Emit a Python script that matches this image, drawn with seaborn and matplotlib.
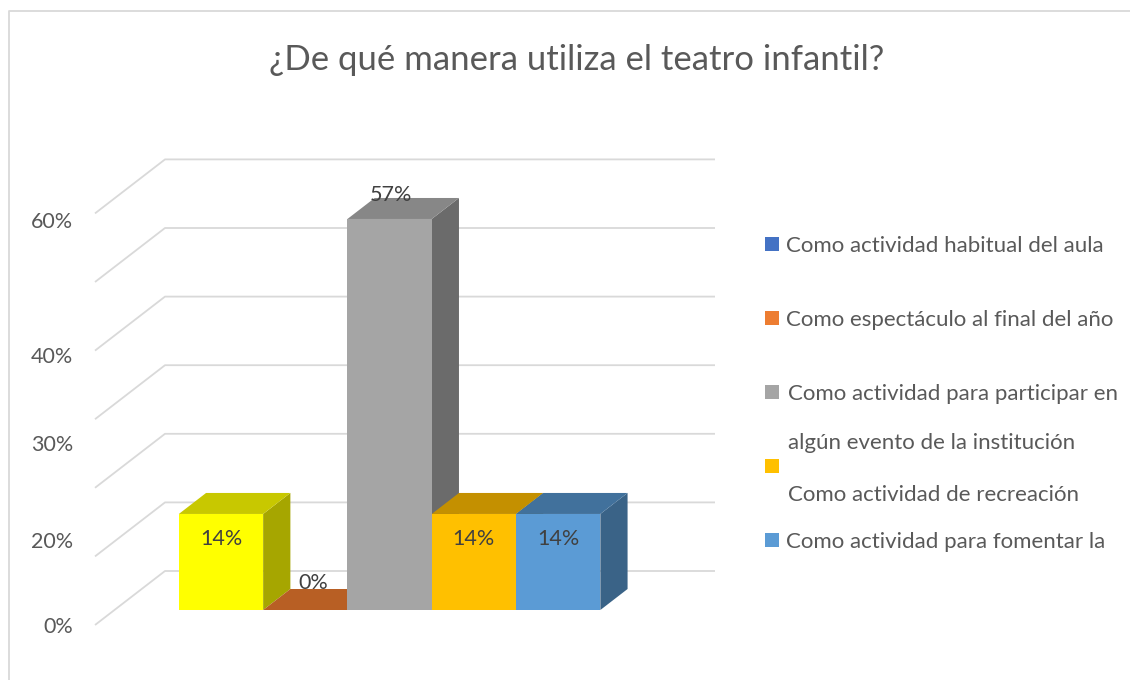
import matplotlib
matplotlib.use("Agg")
import matplotlib.pyplot as plt
from matplotlib.patches import Polygon, Rectangle
from matplotlib.lines import Line2D
import seaborn as sns
import pandas as pd

# --- data ---
titulo = "¿De qué manera utiliza el teatro infantil?"
leyenda_lineas = [
    ["Como actividad habitual del aula"],
    ["Como espectáculo al final del año"],
    ["Como actividad para participar en", "algún evento de la institución"],
    ["Como actividad de recreación"],
    ["Como actividad para fomentar la"],
]
categorias = [" ".join(l) for l in leyenda_lineas]
porcentajes = [14, 0, 57, 14, 14]
etiquetas = ["14%", "0%", "57%", "14%", "14%"]
ticks_texto = ["0%", "20%", "30%", "40%", "60%"]

# colours: front / side / top of each bar, and the (default) legend colours
frente = ["#FFFF00", "#ED7D31", "#A5A5A5", "#FFC000", "#5B9BD5"]
lado = ["#A6A600", "#9A5120", "#6B6B6B", "#A67D00", "#3A6387"]
tapa = ["#C8C800", "#B85F24", "#878787", "#C49000", "#41719C"]
leyenda_col = ["#4472C4", "#ED7D31", "#A5A5A5", "#FFC000", "#5B9BD5"]

# --- layout (pixels) ---
W, H = 1130, 680
X0, Y0 = 221, 610          # centre of first bar / floor of bars
SX, SY = 84.3, 6.86        # px per category, px per percent
def dx(px):
    return (px - X0) / SX
def dy(py):
    return (Y0 - py) / SY

DX, DY = 70 / SX, 54 / SY  # full floor depth
F0, F1 = 15 / 54, 36 / 54  # bar front / back depth fraction
def proj(x, y, f):
    return (x + (f - F0) * DX, y + (f - F0) * DY)

sns.set_theme(style="white")
plt.rcParams["font.family"] = ["Lato", "DejaVu Sans"]
GRIS = "#595959"

fig = plt.figure(figsize=(W / 100, H / 100), dpi=100)
al, ar, at, ab = 80, 740, 150, 650
ax = fig.add_axes([al / W, 1 - ab / H, (ar - al) / W, (ab - at) / H])

# walls / gridlines
XL = dx(95) + F0 * DX
XR = dx(715) - (1 - F0) * DX
for lvl in range(0, 70, 10):
    pts = [proj(XL, lvl, 0), proj(XL, lvl, 1), proj(XR, lvl, 1)]
    ax.plot([p[0] for p in pts], [p[1] for p in pts], color="#D9D9D9",
            lw=1.3, zorder=0.5, solid_capstyle="butt")

df = pd.DataFrame({"cat": categorias, "pct": porcentajes})
sns.barplot(df, x="cat", y="pct", hue="cat", palette=frente, width=1,
            saturation=1, errorbar=None, legend=False, linewidth=0,
            edgecolor="none", zorder=3, ax=ax)

bars = sorted(ax.patches, key=lambda p: p.get_x())
lab_dx = [0, 8, 1, 0, 0]
lab_dy = [-25, 27, 24, -25, -25]
for i, p in enumerate(bars):
    x0, w, h = p.get_x(), p.get_width(), p.get_height()
    side = [proj(x0 + w, 0, F0), proj(x0 + w, h, F0), proj(x0 + w, h, F1), proj(x0 + w, 0, F1)]
    top = [proj(x0, h, F0), proj(x0 + w, h, F0), proj(x0 + w, h, F1), proj(x0, h, F1)]
    ax.add_patch(Polygon(side, closed=True, fc=lado[i], ec="none", zorder=1 + i * 0.1))
    ax.add_patch(Polygon(top, closed=True, fc=tapa[i], ec="none", zorder=1.05 + i * 0.1))
    ax.text(x0 + w / 2 + lab_dx[i] / SX, h + lab_dy[i] / SY, etiquetas[i],
            ha="center", va="center", fontsize=15.5, color="#404040", zorder=5)

ax.set_xlim(dx(al), dx(ar))
ax.set_ylim(dy(ab), dy(at))
ax.set_xticks([])
ax.set_yticks([dy(p) for p in [625, 540, 443, 355, 220]], ticks_texto)
ax.tick_params(axis="y", length=0, pad=5, labelsize=15.5, labelcolor=GRIS)
ax.set_xlabel("")
ax.set_ylabel("")
for s in ax.spines.values():
    s.set_visible(False)
ax.set_facecolor("none")

# title
fig.text(577 / W, 1 - 70 / H, titulo, ha="center", va="baseline",
         fontsize=25, color=GRIS)

# legend (hand placed like the original)
sq_top = [237, 311, 385, 459, 533]
for c, t in zip(leyenda_col, sq_top):
    fig.add_artist(Rectangle((765 / W, 1 - (t + 14) / H), 14 / W, 14 / H,
                             fc=c, ec="none", transform=fig.transFigure))
texto_pos = [[(786, 252)], [(786, 326)], [(788, 400), (788, 449)], [(788, 501)], [(786, 548)]]
for lineas, pos in zip(leyenda_lineas, texto_pos):
    for txt, (x, yb) in zip(lineas, pos):
        fig.text(x / W, 1 - yb / H, txt, ha="left", va="baseline",
                 fontsize=16, color=GRIS)

# chart border
fig.add_artist(Line2D([9 / W, 9 / W, 1], [0, 1 - 11 / H, 1 - 11 / H],
                      color="#D9D9D9", lw=1.3, transform=fig.transFigure))

fig.savefig("out.png", dpi=100)
